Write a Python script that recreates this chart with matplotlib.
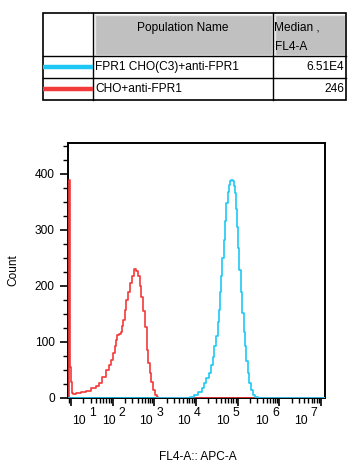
import matplotlib
matplotlib.use("Agg")
import matplotlib.pyplot as plt
from matplotlib.patches import Rectangle
import matplotlib.transforms as mtransforms

plt.rcParams['font.family'] = ['Liberation Sans', 'DejaVu Sans']

# histogram values: log10(FL4-A) vs count
red_log = [0.965, 0.98, 0.995, 1.01, 1.03, 1.07, 1.15, 1.30, 1.40, 1.55, 1.63, 1.71,
           1.80, 1.88, 1.94, 1.99, 2.04, 2.07, 2.10, 2.13, 2.17, 2.21, 2.24, 2.27,
           2.31, 2.35, 2.40, 2.45, 2.50, 2.55, 2.59, 2.63, 2.67, 2.71, 2.75, 2.79,
           2.84, 2.88, 2.91, 2.95, 2.99, 3.03, 3.08, 3.12]
red_count = [389, 199, 56, 29, 9, 8, 9, 10, 13, 17, 21, 27,
             37, 50, 58, 68, 80, 92, 103, 112, 115, 118, 128, 139,
             157, 175, 190, 205, 218, 230, 226, 217, 200, 181, 155, 127,
             86, 62, 44, 28, 14, 6, 2, 0]

cyan_log = [3.80, 3.91, 4.00, 4.11, 4.17, 4.22, 4.28, 4.34, 4.38, 4.42, 4.46, 4.50,
            4.54, 4.57, 4.60, 4.62, 4.65, 4.68, 4.71, 4.74, 4.78, 4.81, 4.84, 4.87,
            4.90, 4.92, 4.94, 4.97, 5.00, 5.03, 5.06, 5.10, 5.13, 5.16, 5.18, 5.22,
            5.26, 5.30, 5.34, 5.40, 5.45, 5.52]
cyan_count = [0, 2, 5, 11, 18, 26, 35, 44, 58, 74, 92, 110,
              135, 157, 190, 217, 250, 282, 315, 348, 368, 380, 388, 389,
              388, 378, 366, 338, 306, 268, 229, 190, 151, 118, 92, 66,
              44, 27, 14, 6, 2, 0]

x_min_log, x_max_log = 0.93, 7.1
y_max = 455
y_ticks = [0, 100, 200, 300, 400]
x_exponents = [1, 2, 3, 4, 5, 6, 7]
# horizontal nudge (pixels) of each "10^n" label relative to its tick
label_nudge = [15, 3, -1, -5, -8, -10, -13]

pop_names = ["FPR1 CHO(C3)+anti-FPR1", "CHO+anti-FPR1"]
medians = ["6.51E4", "246"]
colors = ["#1ec8f5", "#f23a3a"]

fig = plt.figure(figsize=(3.55, 4.7), dpi=100)
ax = fig.add_axes([68 / 355, 72 / 470, 257 / 355, 255 / 470])

red_x = [10 ** v for v in [x_min_log] + red_log + [x_max_log]]
red_y = [0] + red_count + [0]
cyan_x = [10 ** v for v in [x_min_log] + cyan_log + [x_max_log]]
cyan_y = [0] + cyan_count + [0]
ax.plot(red_x, red_y, color=colors[1], lw=1.2, drawstyle='steps-mid', zorder=3)
ax.plot(cyan_x, cyan_y, color=colors[0], lw=1.2, drawstyle='steps-mid', zorder=4)

ax.set_xscale('log')
ax.set_xlim(10 ** x_min_log, 10 ** x_max_log)
ax.set_ylim(0, y_max)
ax.set_yticks(y_ticks)
ax.set_yticks(range(0, y_max, 25), minor=True)
ax.set_yticklabels([str(v) for v in y_ticks], fontsize=8.6)
ax.set_xticks([10 ** e for e in x_exponents])
ax.set_xticklabels([])
ax.xaxis.set_minor_locator(matplotlib.ticker.LogLocator(base=10, subs=range(2, 10), numticks=20))
ax.xaxis.set_minor_formatter(matplotlib.ticker.NullFormatter())
ax.tick_params(which='major', length=5.5, width=1.2, direction='out', pad=4)
ax.tick_params(which='minor', length=3.5, width=1.0, direction='out')
for sp in ax.spines.values():
    sp.set_linewidth(1.4)

# x tick labels, drawn as "10" plus raised exponent
trans = mtransforms.blended_transform_factory(ax.transData, ax.transAxes)
for e, dx in zip(x_exponents, label_nudge):
    ax.annotate("10", xy=(10 ** e, 0), xycoords=trans, xytext=(dx, -26.5),
                textcoords='offset pixels', ha='right', va='baseline', fontsize=8.8)
    ax.annotate(str(e), xy=(10 ** e, 0), xycoords=trans, xytext=(dx + 3, -18.5),
                textcoords='offset pixels', ha='left', va='baseline', fontsize=8.8)

ax.set_ylabel("Count", fontsize=8.6, labelpad=11)
fig.text(198 / 355, 1 - 457 / 470, "FL4-A:: APC-A", ha='center', va='center', fontsize=8.6)

# legend table at top, in pixel coordinates
tab = fig.add_axes([0, 0, 1, 1])
tab.set_xlim(0, 355)
tab.set_ylim(470, 0)
tab.axis('off')
x0, x1, x2, x3 = 43, 93, 273, 346
y0, y1, y2, y3 = 13, 56, 78, 100
tab.add_patch(Rectangle((x1 + 1.5, y0 + 1.5), x2 - x1 - 3, y1 - y0 - 3, facecolor='#c0c0c0',
                        edgecolor='#e8e8e8', lw=1.0))
tab.add_patch(Rectangle((x2 + 1.5, y0 + 1.5), x3 - x2 - 3, y1 - y0 - 3, facecolor='#c0c0c0',
                        edgecolor='#e8e8e8', lw=1.0))
tab.add_patch(Rectangle((x0, y0), x3 - x0, y3 - y0, fill=False, edgecolor='black', lw=1.2))
for yy in (y1, y2):
    tab.plot([x0, x3], [yy, yy], color='black', lw=1.0)
for xx in (x1, x2):
    tab.plot([xx, xx], [y0, y3], color='black', lw=1.0)
tab.text((x1 + x2) / 2, 28, "Population Name", ha='center', va='center', fontsize=8.6)
tab.text(x2 + 1, 28, "Median ,", ha='left', va='center', fontsize=8.6)
tab.text(x2 + 2, 47, "FL4-A", ha='left', va='center', fontsize=8.6)
for i, (name, med) in enumerate(zip(pop_names, medians)):
    yc = [y1, y2][i] + 11
    tab.plot([x0, x1], [yc, yc], color=colors[i], lw=3.2, solid_capstyle='butt')
    tab.text(x1 + 2, yc, name, ha='left', va='center', fontsize=8.6)
    tab.text(x3 - 2, yc, med, ha='right', va='center', fontsize=8.6)

fig.savefig("out.png", dpi=100)
